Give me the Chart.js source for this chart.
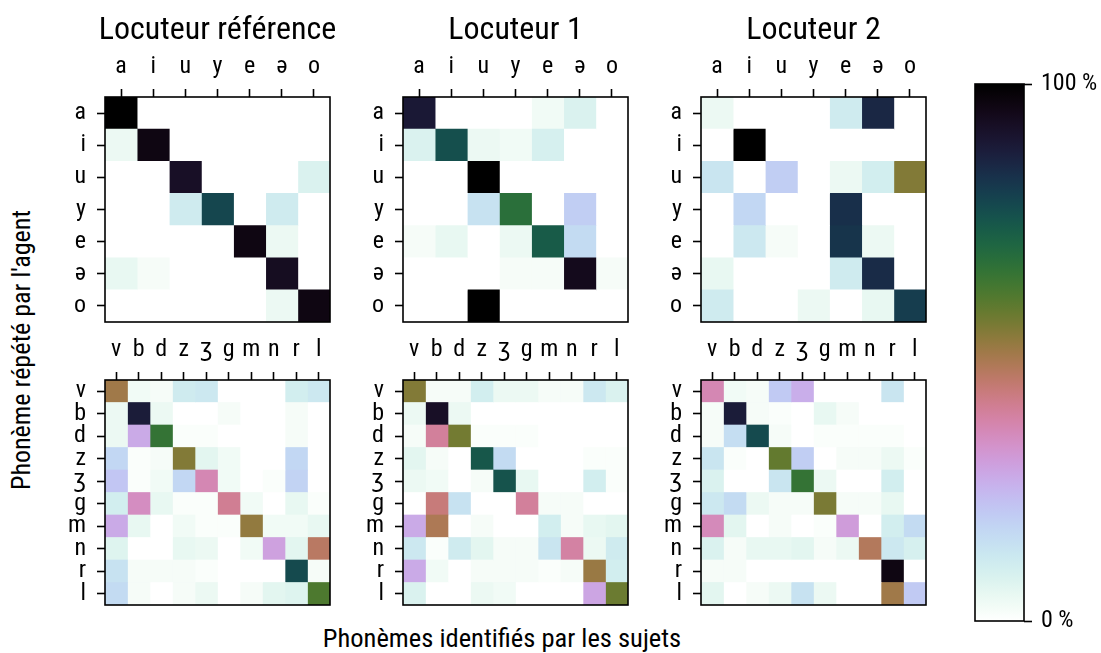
<!DOCTYPE html>
<html><head><meta charset="utf-8">
<script src="https://cdn.jsdelivr.net/npm/chart.js@4.4.0/dist/chart.umd.min.js"></script>
<style>
html,body{margin:0;padding:0;background:#fff;}
#wrap{position:relative;width:1101px;height:653px;overflow:hidden;background:#fff;
  font-family:'Liberation Sans Narrow','Roboto Condensed','DejaVu Sans Condensed','Liberation Sans',sans-serif;}
canvas{position:absolute;}
.lab{position:absolute;white-space:nowrap;color:#000;font-size:26px;line-height:1;}
#ylab{left:21px;top:350px;transform:translate(-50%,-50%) rotate(-90deg);}
#xlab{left:502px;top:638px;transform:translate(-50%,-50%);font-size:26.5px;}
</style></head><body>
<div id="wrap">
<div class="lab" id="ylab">Phonème répété par l'agent</div>
<div class="lab" id="xlab">Phonèmes identifiés par les sujets</div>
</div>
<script>
// ---- data ----
const vowels = ['a','i','u','y','e','ə','o'];
const consonants = ['v','b','d','z','ʒ','g','m','n','r','l'];
const speakers = ['Locuteur référence','Locuteur 1','Locuteur 2'];
const colorbarTicks = [0, 100];

const refVowels = [
 [100,0,0,0,0,0,0],
 [4,96,0,0,0,0,0],
 [0,0,92,0,0,0,8],
 [0,0,11,78,0,11,0],
 [0,0,0,0,96,4,0],
 [5,2,0,0,0,93,0],
 [0,0,0,0,0,4,96]
];
const spk1Vowels = [
 [89,0,0,0,3,8,0],
 [8,76,4,3,9,0,0],
 [0,0,100,0,0,0,0],
 [0,0,14,67,0,19,0],
 [2,5,0,4,73,16,0],
 [0,0,0,2,2,94,2],
 [0,0,100,0,0,0,0]
];
const spk2Vowels = [
 [4,0,0,0,11,85,0],
 [0,100,0,0,0,0,0],
 [13,0,19,0,4,10,54],
 [0,17,0,0,83,0,0],
 [0,12,2,0,82,4,0],
 [5,0,0,0,11,84,0],
 [11,0,0,4,0,5,80]
];
const refConsonants = [
 [50,3,2,11,12,0,0,0,10,12],
 [4,88,4,0,0,2,0,0,2,0],
 [4,27,65,1,1,0,0,0,2,0],
 [17,1,2,54,6,3,0,0,17,0],
 [21,1,3,17,36,3,0,1,18,0],
 [10,34,5,1,1,40,3,0,5,1],
 [27,5,0,3,1,1,52,3,3,5],
 [7,0,0,5,4,0,3,29,6,46],
 [14,2,2,2,1,0,0,0,77,2],
 [16,2,0,2,4,0,2,6,7,61]
];
const spk1Consonants = [
 [54,2,2,10,4,4,2,2,12,8],
 [4,92,4,0,0,0,0,0,0,0],
 [2,39,56,1,1,1,0,0,0,0],
 [6,2,0,74,16,0,0,0,1,1],
 [4,3,0,2,75,5,0,0,10,1],
 [0,43,14,0,0,39,2,2,0,0],
 [27,48,0,2,0,0,10,2,5,6],
 [12,1,11,6,2,2,13,38,4,11],
 [27,3,0,2,2,2,1,2,51,10],
 [8,0,0,4,3,0,0,0,28,57]
];
const spk2Consonants = [
 [36,3,2,20,26,0,0,0,13,0],
 [2,88,2,1,0,5,2,0,0,0],
 [2,15,77,2,0,1,1,1,1,0],
 [13,1,0,58,19,0,2,2,4,1],
 [8,0,0,13,65,4,0,0,10,0],
 [12,16,4,2,2,55,2,2,5,0],
 [35,6,0,2,0,1,30,0,10,16],
 [8,2,5,5,6,2,4,47,12,9],
 [2,2,0,0,0,0,0,0,96,0],
 [6,0,2,4,14,4,0,0,50,20]
];

// ---- colormap (cubehelix, reversed) ----
function cubehelixR(v){
  const x = 1 - Math.max(0, Math.min(1, v));
  const a = x*(1-x)/2;
  const phi = 2*Math.PI*(0.5/3 - 1.5*x);
  const c = Math.cos(phi), s = Math.sin(phi);
  const cl = t => Math.round(255*Math.max(0, Math.min(1, t)));
  const r = x + a*(-0.14861*c + 1.78277*s);
  const g = x + a*(-0.29227*c - 0.90649*s);
  const b = x + a*(1.97294*c);
  return `rgb(${cl(r)},${cl(g)},${cl(b)})`;
}

const FONT = "'Liberation Sans Narrow','Roboto Condensed','DejaVu Sans Condensed','Liberation Sans',sans-serif";
Chart.defaults.font.family = FONT;
Chart.defaults.color = '#000';

const framePlugin = {
  id:'frame',
  afterDatasetsDraw(chart){
    const {ctx, chartArea:a} = chart;
    ctx.save(); ctx.strokeStyle = '#000'; ctx.lineWidth = 1.6;
    ctx.strokeRect(a.left, a.top, a.right - a.left, a.bottom - a.top);
    ctx.restore();
  }
};

const wrap = document.getElementById('wrap');
const PLOT = 225;

function heatmap(plotLeft, plotTop, rows, cols, M, title){
  const yW = 60, rW = 60, xH = 49, padB = 28;
  const titleH = title ? 48 : 0;
  const W = yW + PLOT + rW, H = titleH + xH + PLOT + padB;
  const cv = document.createElement('canvas');
  cv.width = W; cv.height = H;
  cv.style.left = (plotLeft - yW) + 'px';
  cv.style.top = (plotTop - titleH - xH) + 'px';
  wrap.appendChild(cv);
  const datasets = cols.map((c, j) => ({
    label: c,
    data: rows.map(() => 1),
    backgroundColor: rows.map((r, i) => cubehelixR(M[i][j] / 100)),
    borderWidth: 0,
    barPercentage: 1,
    categoryPercentage: 1
  }));
  const tickGrid = {display:true, drawOnChartArea:false, drawTicks:true, tickLength:8, tickWidth:1.6, tickColor:'#000', offset:false};
  new Chart(cv, {
    type:'bar',
    data:{labels: rows, datasets},
    options:{
      indexAxis:'y', responsive:false, animation:false, devicePixelRatio:1,
      layout:{padding:{left:0,right:0,top:0,bottom:padB}},
      plugins:{
        legend:{display:false}, tooltip:{enabled:false},
        title:{display: !!title, text: title || '', color:'#000',
          font:{size:32, weight:'normal', lineHeight:1.0}, padding:{top:15.2, bottom:0.8}}
      },
      scales:{
        x:{type:'linear', stacked:true, min:0, max:cols.length, position:'top',
          afterBuildTicks: s => { s.ticks = cols.map((c, j) => ({value: j + 0.5})); },
          ticks:{autoSkip:false, maxRotation:0, padding:8, font:{size:24}, color:'#000',
            callback: v => cols[Math.floor(v)]},
          grid: tickGrid, border:{display:false},
          afterFit: s => { s.height = xH; }},
        y:{type:'category', stacked:true, position:'left', offset:true,
          ticks:{autoSkip:false, padding:11, font:{size:24}, color:'#000'},
          grid: tickGrid, border:{display:false},
          afterFit: s => { s.width = yW; }},
        yR:{type:'linear', position:'right', display:true,
          grid:{display:false}, border:{display:false}, ticks:{display:false},
          afterFit: s => { s.width = rW; }}
      }
    },
    plugins:[framePlugin]
  });
}

const colX = [105, 403, 701];
const vowelSets = [refVowels, spk1Vowels, spk2Vowels];
const consSets = [refConsonants, spk1Consonants, spk2Consonants];
for (let k = 0; k < 3; k++){
  heatmap(colX[k], 97, vowels, vowels, vowelSets[k], speakers[k]);
  heatmap(colX[k], 380, consonants, consonants, consSets[k], null);
}

// ---- colorbar ----
(function(){
  const cv = document.createElement('canvas');
  const W = 136, H = 585;
  cv.width = W; cv.height = H;
  cv.style.left = '965px'; cv.style.top = '60px';
  wrap.appendChild(cv);
  new Chart(cv, {
    type:'bar',
    data:{labels:[''], datasets:[{
      data:[100], borderWidth:0, barPercentage:1, categoryPercentage:1,
      backgroundColor: (c) => {
        const a = c.chart.chartArea; if (!a) return '#fff';
        const g = c.chart.ctx.createLinearGradient(0, a.bottom, 0, a.top);
        for (let k = 0; k <= 40; k++) g.addColorStop(k/40, cubehelixR(k/40));
        return g;
      }
    }]},
    options:{
      responsive:false, animation:false, devicePixelRatio:1,
      layout:{padding:{left:10, top:24, bottom:24, right:0}},
      plugins:{legend:{display:false}, tooltip:{enabled:false}},
      scales:{
        x:{display:false},
        y:{min:0, max:100, position:'right',
          afterBuildTicks: s => { s.ticks = colorbarTicks.map(v => ({value:v})); },
          ticks:{padding:9, font:{size:24}, color:'#000', callback: v => v + ' %'},
          grid:{display:true, drawOnChartArea:false, drawTicks:true, tickLength:8, tickWidth:1.6, tickColor:'#000'},
          border:{display:false},
          afterFit: s => { s.width = W - 10 - 49; }}
      }
    },
    plugins:[framePlugin]
  });
})();
</script>
</body></html>
